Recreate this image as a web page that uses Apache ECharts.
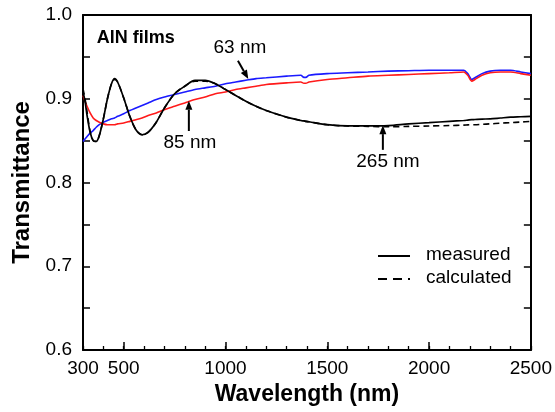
<!DOCTYPE html>
<html><head><meta charset="utf-8">
<script src="https://cdn.jsdelivr.net/npm/echarts@6/dist/echarts.min.js"></script>
<style>html,body{margin:0;padding:0;background:#fff}#c{width:555px;height:412px}</style>
</head><body><div id="c"></div>
<script>
// ---- data ----
const wavelength = [300,310,320,335,350,365,380,400,420,440,455,470,500,530,560,590,620,660,700,750,800,850,900,950,1000,1050,1100,1150,1200,1300,1370,1385,1395,1410,1500,1600,1700,1800,1900,2000,2100,2170,2190,2210,2225,2260,2300,2350,2400,2450,2500];
const t63nm = [0.849,0.852,0.855,0.859,0.862,0.866,0.869,0.872,0.874,0.876,0.877,0.879,0.882,0.886,0.889,0.892,0.895,0.899,0.902,0.905,0.908,0.911,0.913,0.915,0.918,0.920,0.922,0.924,0.925,0.927,0.928,0.9255,0.9255,0.928,0.930,0.931,0.932,0.933,0.9335,0.934,0.934,0.934,0.930,0.923,0.925,0.930,0.933,0.934,0.934,0.932,0.930];
const t85nm = [0.904,0.897,0.891,0.883,0.877,0.874,0.872,0.870,0.869,0.869,0.869,0.870,0.871,0.873,0.875,0.877,0.880,0.883,0.887,0.891,0.895,0.899,0.902,0.906,0.908,0.911,0.913,0.915,0.917,0.919,0.920,0.9185,0.9185,0.920,0.923,0.925,0.927,0.928,0.929,0.930,0.931,0.932,0.928,0.921,0.923,0.928,0.931,0.932,0.932,0.930,0.928];
const t265measured = [0.908,0.897,0.880,0.860,0.850,0.849,0.856,0.876,0.900,0.918,0.924,0.920,0.901,0.879,0.863,0.857,0.860,0.872,0.889,0.906,0.915,0.922,0.922,0.918,0.911,0.904,0.897,0.891,0.886,0.878,0.874,0.8735,0.873,0.8725,0.869,0.8675,0.8675,0.868,0.870,0.8715,0.873,0.874,0.8745,0.875,0.8752,0.8757,0.876,0.877,0.878,0.8785,0.879];
const t265calculated = [0.912,0.900,0.884,0.861,0.850,0.849,0.856,0.876,0.900,0.918,0.923,0.920,0.901,0.879,0.863,0.857,0.860,0.872,0.889,0.906,0.915,0.921,0.921,0.918,0.911,0.904,0.897,0.891,0.886,0.878,0.874,0.8735,0.873,0.8725,0.869,0.8675,0.867,0.8665,0.867,0.8675,0.868,0.8685,0.8688,0.869,0.869,0.8695,0.870,0.8708,0.8715,0.8722,0.873];
const xTickLabels = [300,500,1000,1500,2000,2500];
const xMajorTicks = [500,1000,1500,2000,2500];

const FONT = '"Liberation Sans", Arial, sans-serif';
const pairs = ys => wavelength.map((w,i)=>[w, ys[i]]);

const chart = echarts.init(document.getElementById('c'), null, {renderer:'canvas'});
const axisLine = {show:true, onZero:false, lineStyle:{color:'#000', width:2}};
const gridRect = {left:83, right:24, top:15, bottom:62, containLabel:false};
const option = {
  animation:false,
  backgroundColor:'#fff',
  grid:[Object.assign({}, gridRect), Object.assign({}, gridRect)],
  xAxis:[
    {gridIndex:0, type:'value', min:300, max:2500, interval:100, position:'bottom',
     axisLine:axisLine,
     axisTick:{show:true, inside:true, length:4, lineStyle:{color:'#000', width:1.3}},
     axisLabel:{show:true, customValues:xTickLabels, color:'#000', fontSize:19, fontFamily:FONT, margin:9,
       formatter:v=>String(v)},
     splitLine:{show:false},
     name:'Wavelength (nm)', nameLocation:'middle', nameGap:30,
     nameTextStyle:{color:'#000', fontSize:23, fontWeight:'bold', fontFamily:FONT}},
    {gridIndex:1, type:'value', min:300, max:2500, interval:100, position:'bottom',
     axisLine:{show:false},
     axisTick:{show:true, inside:true, length:8, customValues:xMajorTicks, lineStyle:{color:'#000', width:1.5}},
     axisLabel:{show:false}, splitLine:{show:false}},
    {gridIndex:1, type:'value', min:300, max:2500, interval:100, position:'top',
     axisLine:axisLine, axisTick:{show:false}, axisLabel:{show:false}, splitLine:{show:false}}
  ],
  yAxis:[
    {gridIndex:0, type:'value', min:0.6, max:1.0, interval:0.1, position:'left',
     axisLine:axisLine,
     axisTick:{show:true, inside:true, length:7, lineStyle:{color:'#000', width:1.5}},
     minorTick:{show:true, splitNumber:2, length:7, lineStyle:{color:'#000', width:1.5}},
     axisLabel:{show:true, color:'#000', fontSize:19, fontFamily:FONT, margin:11,
       formatter:v=>v.toFixed(1)},
     splitLine:{show:false},
     name:'Transmittance', nameLocation:'middle', nameGap:47,
     nameTextStyle:{color:'#000', fontSize:24, fontWeight:'bold', fontFamily:FONT}},
    {gridIndex:0, type:'value', min:0.6, max:1.0, interval:0.1, position:'right',
     axisLine:axisLine,
     axisTick:{show:true, inside:true, length:7, lineStyle:{color:'#000', width:1.5}},
     minorTick:{show:true, splitNumber:2, length:7, lineStyle:{color:'#000', width:1.5}},
     axisLabel:{show:false}, splitLine:{show:false}},
    {gridIndex:1, type:'value', min:0.6, max:1.0, show:false}
  ],
  series:[
    {name:'63 nm', type:'line', xAxisIndex:0, yAxisIndex:0, data:pairs(t63nm), showSymbol:false, smooth:0.25,
     lineStyle:{color:'#1a1aff', width:1.6}, z:2},
    {name:'85 nm', type:'line', xAxisIndex:0, yAxisIndex:0, data:pairs(t85nm), showSymbol:false, smooth:0.25,
     lineStyle:{color:'#ff1a1a', width:1.6}, z:3},
    {name:'265 nm calculated', type:'line', xAxisIndex:0, yAxisIndex:0, data:pairs(t265calculated), showSymbol:false, smooth:0.3,
     lineStyle:{color:'#000', width:1.6, type:[6,4]}, z:4},
    {name:'265 nm measured', type:'line', xAxisIndex:0, yAxisIndex:0, data:pairs(t265measured), showSymbol:false, smooth:0.3,
     lineStyle:{color:'#000', width:1.7}, z:5}
  ]
};
chart.setOption(option);

// ---- annotations, positioned in data coordinates ----
const P = (x,y)=>[chart.convertToPixel({xAxisIndex:0}, x), chart.convertToPixel({yAxisIndex:0}, y)];
const labels = [
  {text:'AlN films', at:[367,0.9725], bold:true, size:18, align:'left'},
  {text:'63 nm', at:[1071,0.9606], size:19, align:'center'},
  {text:'85 nm', at:[825,0.847], size:19, align:'center'},
  {text:'265 nm', at:[1798,0.8245], size:19, align:'center'}
];
const arrows = [
  {from:[1061,0.9455], to:[1112,0.9235]},
  {from:[820,0.8615], to:[820,0.8975]},
  {from:[1773,0.839], to:[1773,0.8685]}
];
const g = [];
labels.forEach(l=>{
  const [x,y] = P(l.at[0], l.at[1]);
  g.push({type:'text', x:x, y:y, z:100, style:{text:l.text, fill:'#000',
    font:(l.bold?'bold ':'')+l.size+'px '+FONT, align:l.align, verticalAlign:'middle',
    textAlign:l.align, textVerticalAlign:'middle'}});
});
arrows.forEach(a=>{
  const [x1,y1] = P(a.from[0], a.from[1]);
  const [x2,y2] = P(a.to[0], a.to[1]);
  const dx=x2-x1, dy=y2-y1, L=Math.hypot(dx,dy), ux=dx/L, uy=dy/L;
  const hl=9, hw=3.5;
  const bx=x2-ux*hl, by=y2-uy*hl;
  g.push({type:'line', z:100, shape:{x1:x1,y1:y1,x2:bx,y2:by}, style:{stroke:'#000', lineWidth:2}});
  g.push({type:'polygon', z:100, shape:{points:[[x2,y2],[bx-uy*hw,by+ux*hw],[bx+uy*hw,by-ux*hw]]}, style:{fill:'#000'}});
});
// legend
const legendItems = [
  {text:'measured', y:256, dash:null},
  {text:'calculated', y:279, dash:[9,6]}
];
legendItems.forEach(it=>{
  g.push({type:'line', z:100, shape:{x1:378,y1:it.y,x2:410,y2:it.y},
    style:{stroke:'#000', lineWidth:2, lineDash:it.dash}});
  g.push({type:'text', z:100, x:426, y:it.y-1, style:{text:it.text, fill:'#000',
    font:'19px '+FONT, align:'left', verticalAlign:'middle', textAlign:'left', textVerticalAlign:'middle'}});
});
chart.setOption({graphic:{elements:g}});
</script>
</body></html>
